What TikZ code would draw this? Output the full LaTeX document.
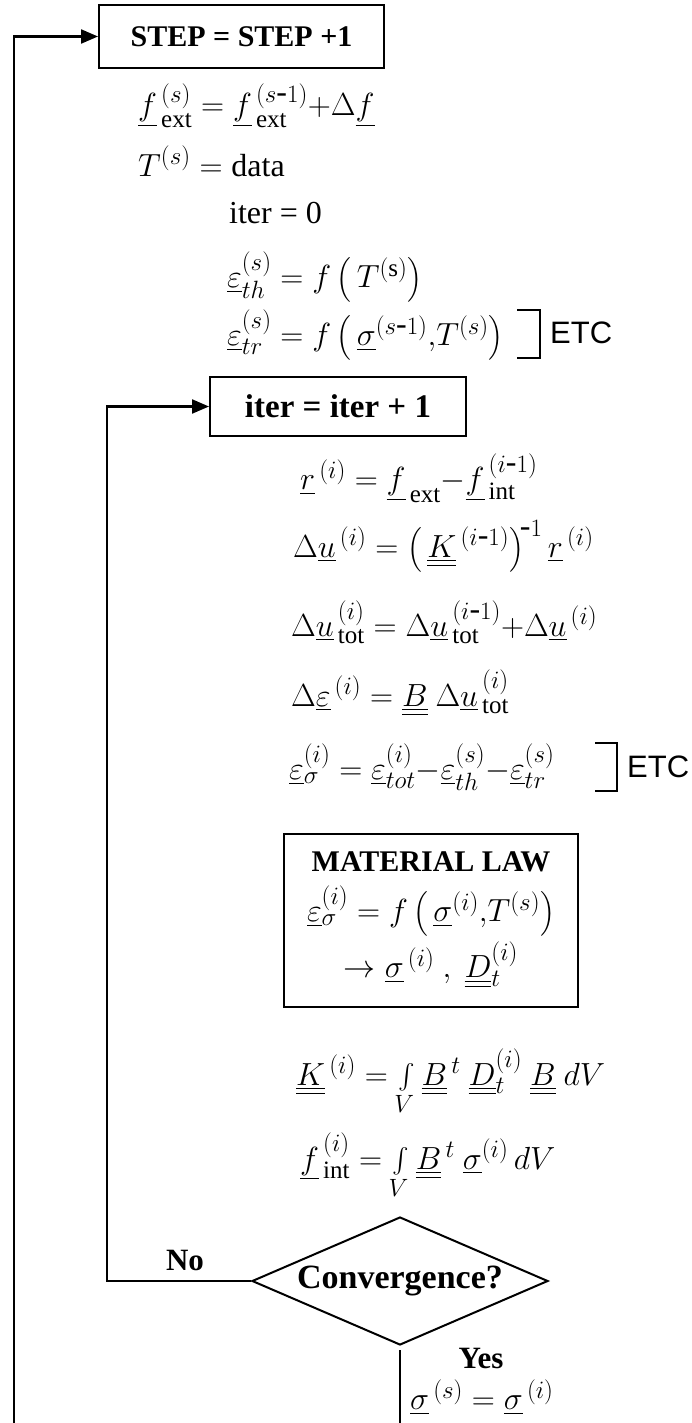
\RequirePackage{fix-cm}
\documentclass[tikz,border=0pt]{standalone}
\usepackage{amsmath}
\usepackage{fontspec}
\setmainfont{Liberation Serif}
\newfontfamily\etcfont{Liberation Sans}
\usetikzlibrary{shapes.geometric,arrows.meta}
\DeclareMathSizes{32}{32}{25}{20}

% vectors: one bar, matrices: two bars
\newcommand{\vc}[1]{\underline{#1}}
\newcommand{\mt}[1]{\underline{\underline{#1}}}
\newcommand{\mi}{\mbox{-}}

\begin{document}
\begin{tikzpicture}[x=1pt, y=-1pt,
    box/.style={draw, line width=2pt, minimum height=63pt, inner sep=0pt},
    eq/.style={anchor=west, inner sep=0pt, font=\fontsize{32}{40}\selectfont},
    head/.style={inner sep=0pt, font=\fontsize{30}{36}\selectfont\bfseries},
    etc/.style={anchor=west, inner sep=0pt, font=\fontsize{31}{37}\selectfont\etcfont},
    line/.style={line width=2.2pt},
    arrow/.style={line, -{Triangle[length=17pt, width=14pt]}},
    bracket/.style={line width=2.5pt}
]
\useasboundingbox (0,0) rectangle (691,1423);

% load step
\node[box, head, minimum width=285pt] (step) at (241.5,36.5) {STEP = STEP +1};
\node[eq] (fext) at (138,106) {$\vc{f}^{\,(s)}_{\,\mathrm{ext}} = \vc{f}^{\,(s\mi1)}_{\,\mathrm{ext}}{+}\Delta\vc{f}$};
\node[eq] (temp) at (138,161) {$T^{(s)} = \mathrm{data}$};
\node[eq] (iterzero) at (229,213) {iter = 0};
\node[eq] (epsth) at (227,277) {$\vc{\varepsilon}^{(s)}_{th} = f\left(\,T^{(\mathrm{s})}\right)$};
\node[eq] (epstr) at (227,335) {$\vc{\varepsilon}^{(s)}_{tr} = f\left(\,\vc{\sigma}^{(s\mi1)}{,}T^{(s)}\right)$};
\draw[bracket] (517,310) -- (540,310) -- (540,358) -- (517,358);
\node[etc] (etcA) at (550,333) {ETC};

% iteration
\node[box, head, font=\fontsize{33}{40}\selectfont\bfseries, minimum width=256pt, minimum height=59pt] (iter) at (338,406.5) {iter = iter + 1};
\node[eq] (res) at (300,478) {$\vc{r}^{\,(i)} = \vc{f}_{\,\mathrm{ext}}{-}\vc{f}^{\,(i\mi1)}_{\,\mathrm{int}}$};
\node[eq] (du) at (293,546) {$\Delta\vc{u}^{\,(i)} = \left(\,\mt{K}^{\,(i\mi1)}\right)^{\!\mi1}\vc{r}^{\,(i)}$};
\node[eq] (dutot) at (291,622) {$\Delta\vc{u}^{\,(i)}_{\,\mathrm{tot}} = \Delta\vc{u}^{\,(i\mi1)}_{\,\mathrm{tot}}{+}\Delta\vc{u}^{\,(i)}$};
\node[eq] (deps) at (291,693) {$\Delta\vc{\varepsilon}^{\,(i)} = \mt{B}\ \Delta\vc{u}^{\,(i)}_{\,\mathrm{tot}}$};
\node[eq] (epssig) at (289,767) {$\vc{\varepsilon}^{(i)}_{\sigma} = \vc{\varepsilon}^{(i)}_{tot}{-}\vc{\varepsilon}^{(s)}_{th}{-}\vc{\varepsilon}^{(s)}_{tr}$};
\draw[bracket] (595,743) -- (617,743) -- (617,791) -- (595,791);
\node[etc] (etcB) at (627,767) {ETC};

% material law
\node[box, align=center, minimum width=294pt, minimum height=173pt, font=\fontsize{32}{52}\selectfont] (law) at (431,920)
  {{\fontsize{30}{36}\selectfont\bfseries MATERIAL LAW}\\[-2pt]
   $\vc{\varepsilon}^{(i)}_{\sigma} = f\left(\,\vc{\sigma}^{(i)}{,}T^{(s)}\right)$\\[4pt]
   $\rightarrow \vc{\sigma}^{\,(i)}\ ,\ \mt{D}^{(i)}_{t}$};

\node[eq] (stiff) at (296,1082) {$\mt{K}^{\,(i)} = \int\limits_{V} \mt{B}^{\,t}\ \mt{D}^{(i)}_{t}\ \mt{B}\ dV$};
\node[eq] (fint) at (300,1166) {$\vc{f}^{\,(i)}_{\,\mathrm{int}} = \int\limits_{V} \mt{B}^{\,t}\ \vc{\sigma}^{(i)}\,dV$};

% convergence check
\node[diamond, draw, line width=2pt, aspect=2.3, inner sep=0pt, minimum width=296pt, minimum height=128pt,
      font=\fontsize{34}{40}\selectfont\bfseries] (conv) at (400,1281) {Convergence?};
\node[head, font=\fontsize{31}{37}\selectfont\bfseries] (no) at (185,1260) {No};
\node[head, font=\fontsize{31}{37}\selectfont\bfseries] (yes) at (481,1358) {Yes};
\node[eq] (sigs) at (410,1397) {$\vc{\sigma}^{\,(s)} = \vc{\sigma}^{\,(i)}$};

% loops
\coordinate (nocorner) at (107,1281);
\coordinate (stepfoot) at (14,1423);
\coordinate (yesfoot) at (400,1423);
\draw[arrow] (conv.west) -- (nocorner) |- (iter.west);
\draw[arrow] (stepfoot) |- (step.west);
\draw[line] ([yshift=-4pt]conv.south) -- (yesfoot);

\end{tikzpicture}
\end{document}
